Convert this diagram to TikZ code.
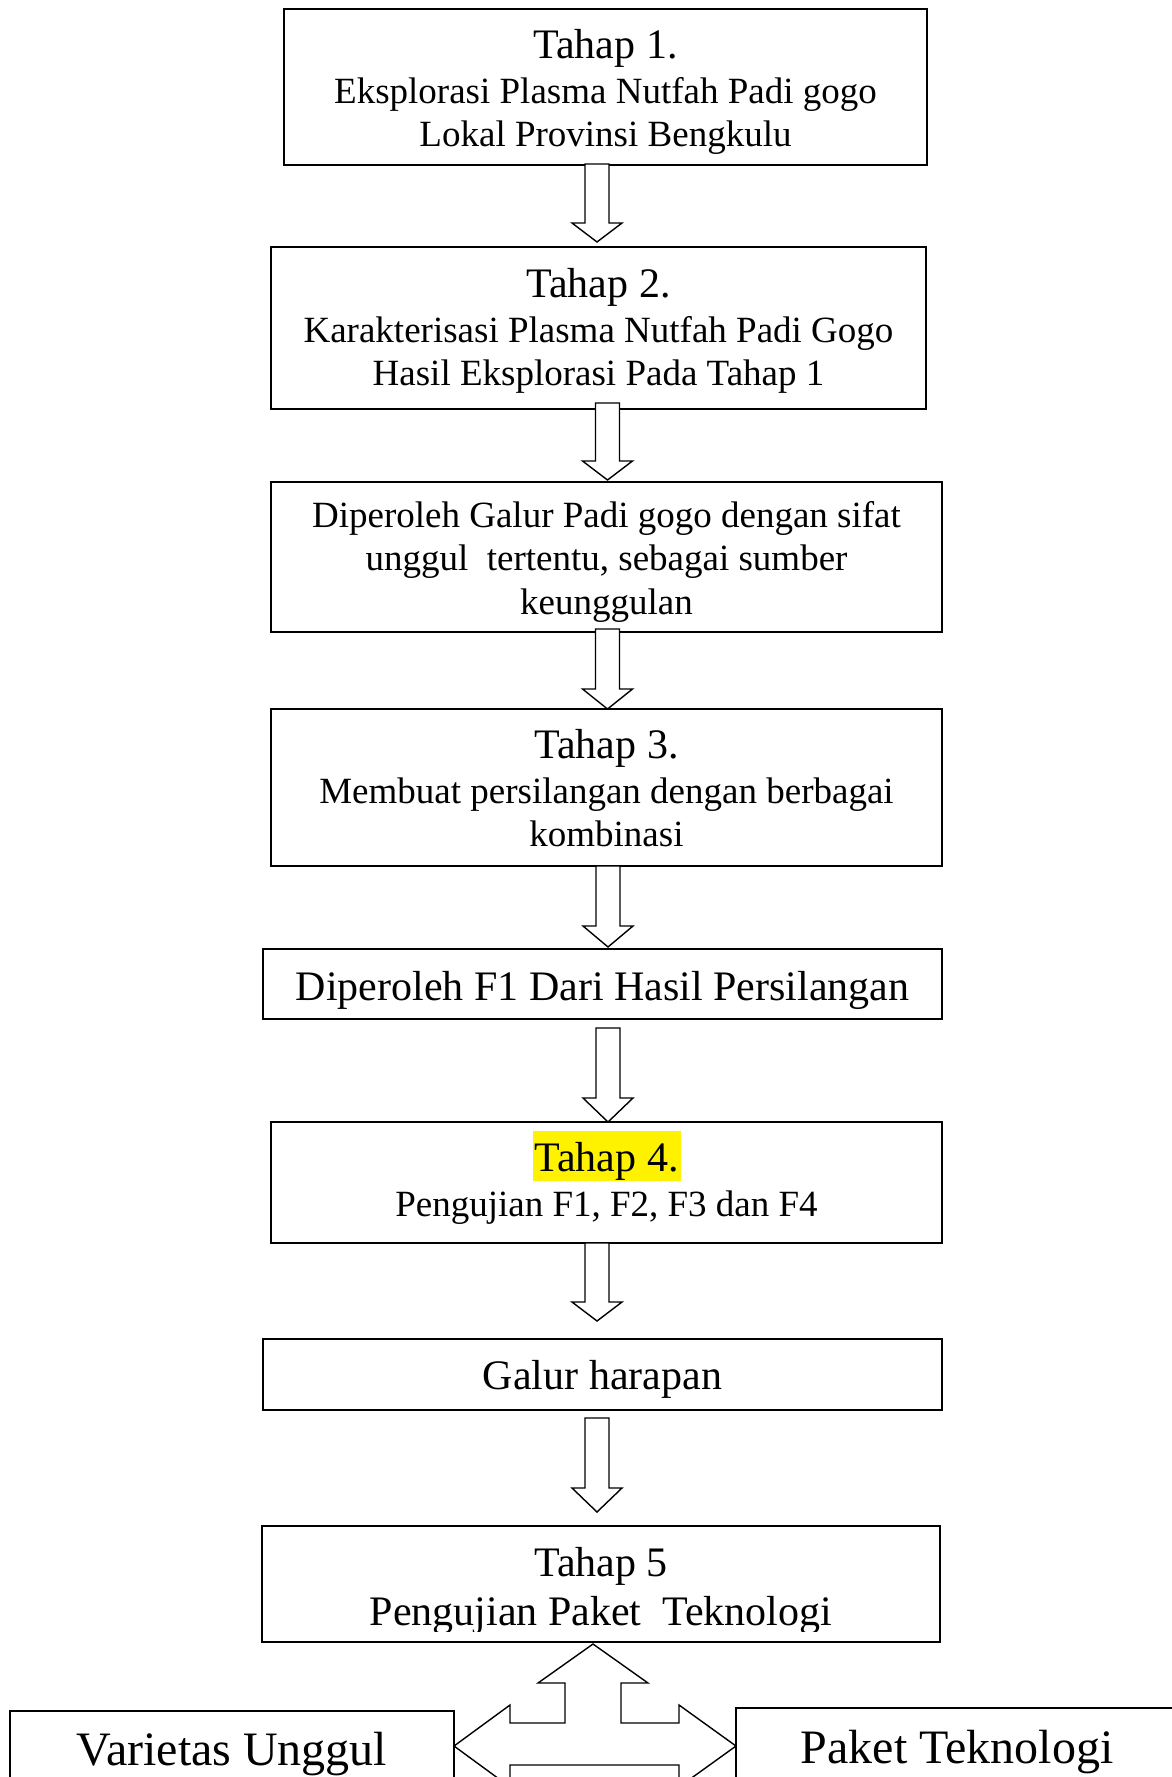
\documentclass[tikz,border=0pt]{standalone}
\usepackage{fontspec}
\setmainfont{Liberation Serif}
\usetikzlibrary{calc}
\newcommand\fbig{\fontsize{42}{48}\selectfont}
\newcommand\fsml{\fontsize{37}{42}\selectfont}
\newcommand\fhuge{\fontsize{48}{55}\selectfont}
\tikzset{
  box/.style={draw, line width=1.8pt, outer sep=0pt, inner sep=0pt, anchor=north west},
  txt/.style={anchor=base, inner sep=0pt},
  fatarrow/.style={draw, line width=1.4pt, fill=white, line join=miter},
}
% #1 from node, #2 to node, #3 x centre, #4 start raised above #1.south, #5 tip raised above #2.north, #6 head length
\newcommand\fatdown[6]{%
  \draw[fatarrow] let \p1=(#1.south), \p2=(#2.north) in
   ({(#3-12)*1pt},{\y1+(#4pt)}) -- ({(#3+12)*1pt},{\y1+(#4pt)})
   -- ({(#3+12)*1pt},{\y2+(#5pt)+(#6pt)}) -- ({(#3+25)*1pt},{\y2+(#5pt)+(#6pt)})
   -- ({#3*1pt},{\y2+(#5pt)})
   -- ({(#3-25)*1pt},{\y2+(#5pt)+(#6pt)}) -- ({(#3-12)*1pt},{\y2+(#5pt)+(#6pt)}) -- cycle;}
\begin{document}
\begin{tikzpicture}[x=1pt,y=-1pt]
\clip (0,0) rectangle (1172,1777);
\fill[white] (0,0) rectangle (1172,1777);

% boxes
\node[box, minimum width=643pt, minimum height=156pt] (b1) at (284,9) {};
\node[box, minimum width=655pt, minimum height=162pt] (b2) at (271,247) {};
\node[box, minimum width=671pt, minimum height=150pt] (b3) at (271,482) {};
\node[box, minimum width=671pt, minimum height=157pt] (b4) at (271,709) {};
\node[box, minimum width=679pt, minimum height=70pt] (b5) at (263,949) {};
\node[box, minimum width=671pt, minimum height=121pt] (b6) at (271,1122) {};
\node[box, minimum width=679pt, minimum height=71pt] (b7) at (263,1339) {};
\node[box, minimum width=678pt, minimum height=116pt] (b8) at (262,1526) {};
\node[box, minimum width=444pt, minimum height=140pt] (vu) at (10,1711) {};
\node[box, minimum width=444pt, minimum height=142pt] (pk) at (736,1708) {};

% texts
\node[txt, font=\fbig] (t1a) at (605.5,59) {Tahap 1.};
\node[txt, font=\fsml] (t1b) at (605.5,103) {Eksplorasi Plasma Nutfah Padi gogo};
\node[txt, font=\fsml] (t1c) at (605.5,146) {Lokal Provinsi Bengkulu};

\node[txt, font=\fbig] (t2a) at (598.5,297) {Tahap 2.};
\node[txt, font=\fsml] (t2b) at (598.5,342) {Karakterisasi Plasma Nutfah Padi Gogo};
\node[txt, font=\fsml] (t2c) at (598.5,385) {Hasil Eksplorasi Pada Tahap 1};

\node[txt, font=\fsml] (t3a) at (606.5,527) {Diperoleh Galur Padi gogo dengan sifat};
\node[txt, font=\fsml] (t3b) at (606.5,570) {unggul\ \ tertentu, sebagai sumber};
\node[txt, font=\fsml] (t3c) at (606.5,614) {keunggulan};

\node[txt, font=\fbig] (t4a) at (606.5,758) {Tahap 3.};
\node[txt, font=\fsml] (t4b) at (606.5,803) {Membuat persilangan dengan berbagai};
\node[txt, font=\fsml] (t4c) at (606.5,846) {kombinasi};

\node[txt, font=\fbig] (t5a) at (602.5,1000) {Diperoleh F1 Dari Hasil Persilangan};

\node[txt, font=\fbig, fill=yellow, inner xsep=2pt, text height=40pt, text depth=10pt] (t6a) at (606.5,1171) {Tahap 4.};
\node[txt, font=\fsml] (t6b) at (606.5,1216) {Pengujian F1, F2, F3 dan F4};

\node[txt, font=\fbig] (t7a) at (602.5,1389) {Galur harapan};

\node[txt, font=\fbig] (t8a) at (601,1576) {Tahap 5};
\begin{scope}
\clip (262,1526) rectangle (940,1631);
\node[txt, font=\fbig] (t8b) at (601,1625) {Pengujian Paket\ \ Teknologi};
\end{scope}

\node[txt, font=\fhuge] (tvu) at (232,1765) {Varietas Unggul};
\node[txt, font=\fhuge] (tpk) at (957,1763) {Paket Teknologi};

% block arrows
\fatdown{b1}{b2}{597}{1}{5}{19}
\fatdown{b2}{b3}{607.5}{6}{2}{19}
\fatdown{b3}{b4}{607.5}{3}{0}{20}
\fatdown{b4}{b5}{608}{0}{2}{21}
\fatdown{b5}{b6}{608}{-9}{0}{24}
\fatdown{b6}{b7}{597}{0}{18}{19}
\fatdown{b7}{b8}{597}{-8}{14}{24}

% three-way arrow between b8, vu and pk
\draw[fatarrow] let \p1=(b8.south), \p2=(vu.east), \p3=(pk.west) in
  (593pt,{\y1-2pt}) -- (648pt,{\y1-41pt}) -- (621pt,{\y1-41pt}) -- (621pt,{\y1-81pt})
  -- ({\x3-57pt},{\y1-81pt}) -- ({\x3-57pt},{\y1-63pt}) -- (\x3,{\y1-104pt})
  -- ({\x3-57pt},{\y1-145pt}) -- ({\x3-57pt},{\y1-123pt})
  -- ({\x2+56pt},{\y1-123pt}) -- ({\x2+56pt},{\y1-145pt}) -- (\x2,{\y1-104pt})
  -- ({\x2+56pt},{\y1-63pt}) -- ({\x2+56pt},{\y1-81pt}) -- (565pt,{\y1-81pt})
  -- (565pt,{\y1-41pt}) -- (538pt,{\y1-41pt}) -- cycle;
\end{tikzpicture}
\end{document}
